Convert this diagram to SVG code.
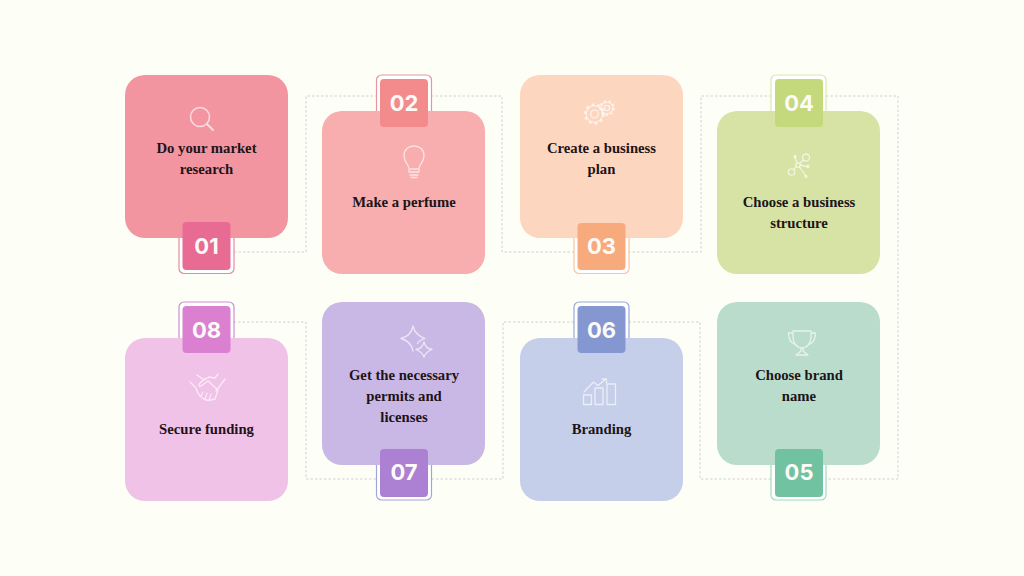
<svg xmlns="http://www.w3.org/2000/svg" width="1024" height="576" viewBox="0 0 1024 576">
<style>
.card{stroke:none}
.ring{fill:#fff;stroke-width:1.2}
.num{font-family:"Inter","Open Sans",sans-serif;font-weight:700;font-size:22px;fill:#fdfbf8;text-anchor:middle}
.lbl{font-family:"Liberation Serif",serif;font-weight:700;font-size:14.700px;fill:#1d1417;text-anchor:middle}
.ico{fill:none;stroke:#fff;stroke-opacity:.65;stroke-width:1.300;stroke-linecap:round;stroke-linejoin:round}
.dash{fill:none;stroke:#cdd2cd;stroke-width:1;stroke-dasharray:2.500 2}
</style>
<rect width="1024" height="576" fill="#fdfff7"/>
<g id="connectors">
<path class="dash" d="M234 252H306V96H376"/>
<path class="dash" d="M431 96H502V252H574"/>
<path class="dash" d="M628 252H701V96H771"/>
<path class="dash" d="M826 96H898V479H826"/>
<path class="dash" d="M771 479H700V322H628"/>
<path class="dash" d="M574 322H503V479H431"/>
<path class="dash" d="M376 479H306V322H234"/>
</g>
<g id="node-01">
<rect class="ring" x="179" y="215" width="55" height="58.500" rx="5" stroke="#e58aa5"/>
<rect class="card" x="125" y="75" width="163" height="163" rx="20" fill="#f394a1"/>
<rect x="182.500" y="222" width="48" height="48" rx="4" fill="#e76b92"/>
<text class="num" x="206.500" y="254">01</text>
<path class="ico" style="stroke-width:2" d="M207.500 124.500L213 130"/>
<circle class="ico" style="stroke-width:1.600" cx="200" cy="117" r="9.500"/>
<text class="lbl" x="206.500" y="153">Do your market</text>
<text class="lbl" x="206.500" y="174">research</text>
</g>
<g id="node-02">
<rect class="ring" x="376.500" y="75" width="55" height="58" rx="5" stroke="#e8959b"/>
<rect class="card" x="322" y="111" width="163" height="163" rx="20" fill="#f8aeaf"/>
<rect x="380" y="79" width="48" height="48" rx="4" fill="#f38b8d"/>
<text class="num" x="404" y="111">02</text>
<path class="ico" d="M409 169C409 164 404 163 404 155.500C404 149.500 408.500 146 414 146C419.500 146 424 149.500 424 155.500C424 163 419 164 419 169ZM409 169V172H419V169M410 175H418M411 177.500H417"/>
<text class="lbl" x="404" y="207">Make a perfume</text>
</g>
<g id="node-03">
<rect class="ring" x="574" y="215" width="55" height="58.500" rx="5" stroke="#f6c6a6"/>
<rect class="card" x="520" y="75" width="163" height="163" rx="20" fill="#fdd6bf"/>
<rect x="577.500" y="223" width="48" height="47" rx="4" fill="#f7ab7d"/>
<text class="num" x="601.500" y="254">03</text>
<circle class="ico" cx="594.500" cy="114" r="8.300"/>
<circle class="ico" style="stroke-width:2.400;stroke-linecap:butt;stroke-dasharray:2.800 3.130" cx="594.500" cy="114" r="9.500"/>
<circle class="ico" cx="594.500" cy="114" r="3.800"/>
<circle class="ico" cx="607" cy="108" r="5.800"/>
<circle class="ico" style="stroke-width:2;stroke-linecap:butt;stroke-dasharray:2.300 2.560" cx="607" cy="108" r="6.950"/>
<circle class="ico" cx="607" cy="108" r="2.600"/>
<text class="lbl" x="601.500" y="153">Create a business</text>
<text class="lbl" x="601.500" y="174">plan</text>
</g>
<g id="node-04">
<rect class="ring" x="771" y="75" width="55" height="58" rx="5" stroke="#dfe6b0"/>
<rect class="card" x="717" y="111" width="163" height="163" rx="20" fill="#d6e3a4"/>
<rect x="775" y="79" width="48" height="48" rx="4" fill="#c4d87c"/>
<text class="num" x="799" y="111">04</text>
<circle class="ico" cx="806" cy="157.500" r="3.500"/>
<circle class="ico" cx="791.500" cy="172" r="3.200"/>
<circle class="ico" cx="798" cy="165" r="2.200"/>
<circle class="ico" cx="795" cy="156.500" r="1"/>
<circle class="ico" cx="808" cy="166.500" r="1"/>
<circle class="ico" cx="806" cy="176.500" r="1"/>
<path class="ico" d="M800 163L803.500 160M796 166.500L794 169.500M797 163L795 157.500M800.300 165L807 166.500M799.500 167L805.500 175.500"/>
<text class="lbl" x="799" y="207">Choose a business</text>
<text class="lbl" x="799" y="228">structure</text>
</g>
<g id="node-05">
<rect class="ring" x="771" y="442" width="55" height="58" rx="5" stroke="#a6d8c3"/>
<rect class="card" x="717" y="302" width="163" height="163" rx="20" fill="#b9dccd"/>
<rect x="775" y="449" width="48" height="48" rx="4" fill="#71c2a1"/>
<text class="num" x="799" y="480">05</text>
<path class="ico" d="M793 331H811V337C811 343 807 348 802 348C797 348 793 343 793 337ZM793 333H788.500C788.500 339 791 343 795 344.500M811 333H815.500C815.500 339 813 343 809 344.500M801 348V351L796 355H808L803 351V348"/>
<text class="lbl" x="799" y="380">Choose brand</text>
<text class="lbl" x="799" y="401">name</text>
</g>
<g id="node-06">
<rect class="ring" x="574" y="302" width="55" height="58" rx="5" stroke="#9aa8d6"/>
<rect class="card" x="520" y="338" width="163" height="163" rx="20" fill="#c6cfea"/>
<rect x="577.500" y="306" width="48" height="47" rx="4" fill="#8597d0"/>
<text class="num" x="601.500" y="338">06</text>
<rect class="ico" x="583.500" y="395" width="8" height="9.500"/>
<rect class="ico" x="595" y="388" width="8" height="16.500"/>
<rect class="ico" x="607" y="384" width="8.500" height="20.500"/>
<path class="ico" d="M584 392L593.500 382L598 385.500L606 379M602 379H606.500V383"/>
<text class="lbl" x="601.500" y="434">Branding</text>
</g>
<g id="node-07">
<rect class="ring" x="376.500" y="442" width="55" height="58" rx="5" stroke="#9fa8d4"/>
<rect class="card" x="322" y="302" width="163" height="163" rx="20" fill="#c9b8e6"/>
<rect x="380" y="449" width="48" height="48" rx="4" fill="#ac80d2"/>
<text class="num" x="404" y="480">07</text>
<path class="ico" d="M413 326Q415 335 425 338.500Q419 340.500 417.500 343.500M413 351Q411 341 401 338.500Q411 336 413 326"/>
<path class="ico" d="M424 342C425 346 428 349 432 349.500C428 351 425 354 424 357C423 354 420 351 416 349.500C420 349 423 346 424 342Z"/>
<text class="lbl" x="404" y="380">Get the necessary</text>
<text class="lbl" x="404" y="401">permits and</text>
<text class="lbl" x="404" y="422">licenses</text>
</g>
<g id="node-08">
<rect class="ring" x="179" y="302" width="55" height="58" rx="5" stroke="#c98fcf"/>
<rect class="card" x="125" y="338" width="163" height="163" rx="20" fill="#f1c2e8"/>
<rect x="182.500" y="306" width="48" height="47" rx="4" fill="#db80d0"/>
<text class="num" x="206.500" y="338">08</text>
<path class="ico" d="M197 375L204 380L209 377L215 378L218 374M190 382L196 388M225 379L216 391M196 388C197 393 201 399 208 400.500L215 399L218 390L208 381L201 386C199 387 198 385 200 383L205 378.500M203 392L201 396M207 393L205 399M211 394L209 400"/>
<text class="lbl" x="206.500" y="434">Secure funding</text>
</g>
</svg>
